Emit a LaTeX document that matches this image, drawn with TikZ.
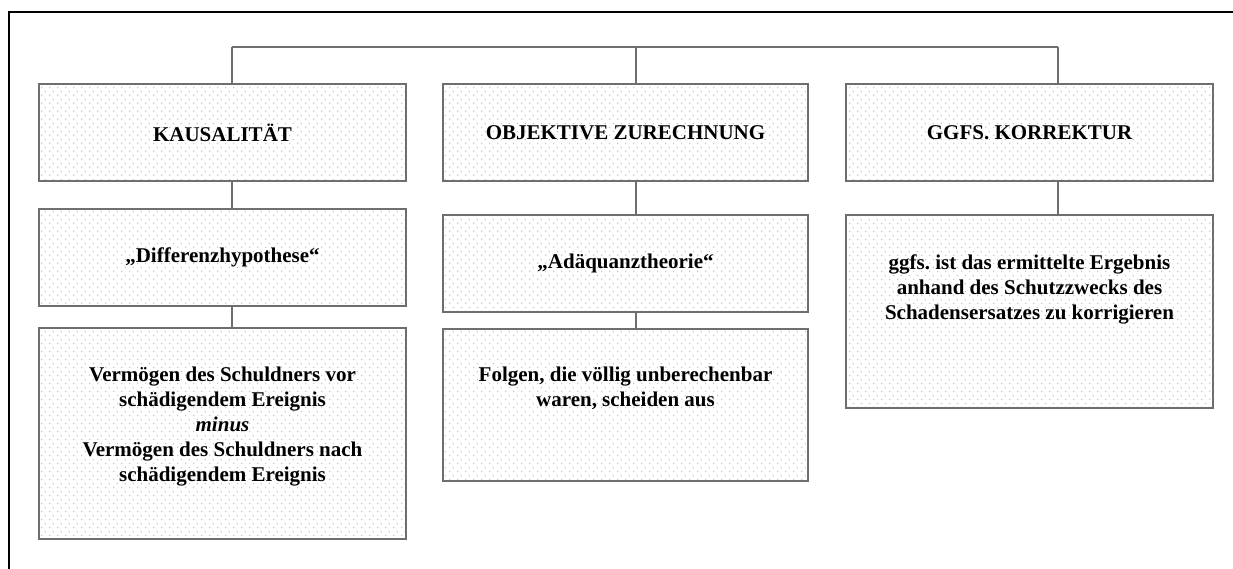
\documentclass[tikz,border=0pt]{standalone}
\usepackage{fontspec}
\setmainfont{Liberation Serif}
\usetikzlibrary{patterns,calc}
\definecolor{boxline}{HTML}{6E6E6E}
\definecolor{dotcol}{HTML}{B8B8B8}
\pgfdeclarepatternformonly{sparsedots}{\pgfqpoint{0pt}{0pt}}{\pgfqpoint{8pt}{8pt}}{\pgfqpoint{8pt}{8pt}}{%
  \pgfpathcircle{\pgfqpoint{2pt}{2pt}}{0.8pt}%
  \pgfpathcircle{\pgfqpoint{6pt}{6pt}}{0.8pt}%
  \pgfusepath{fill}}
\tikzset{
  box/.style={draw=boxline, line width=2pt, rectangle, inner sep=0pt,
    pattern=sparsedots, pattern color=dotcol,
    font=\fontsize{21}{25}\selectfont\bfseries\frenchspacing, align=center},
  boxtext/.style={inner sep=0pt, anchor=north, align=center,
    font=\fontsize{21}{25}\selectfont\bfseries\frenchspacing},
  conn/.style={draw=boxline, line width=2pt},
  frame/.style={draw=black, line width=2pt}
}
\begin{document}
\begin{tikzpicture}[x=1pt,y=1pt]
\useasboundingbox (0,0) rectangle (1233,569);
\draw[frame] (9,0) -- (9,557) -- (1233,557);

% boxes
\node[box, minimum width=367, minimum height=97] (k1) at (222.5,436.5) {KAUSALITÄT};
\node[box, minimum width=367, minimum height=97] (d1) at (222.5,311.5) {„Differenzhypothese“};
\node[box, minimum width=367, minimum height=211] (v1) at (222.5,135.5) {};
\node[boxtext] (v1t) at ($(v1.north)+(0,-40)$) {Vermögen des Schuldners vor\\schädigendem Ereignis\\\textit{minus}\\Vermögen des Schuldners nach\\schädigendem Ereignis};

\node[box, minimum width=365, minimum height=97] (k2) at (625.5,436.5) {OBJEKTIVE ZURECHNUNG};
\node[box, minimum width=365, minimum height=97] (d2) at (625.5,305.5) {„Adäquanztheorie“};
\node[box, minimum width=365, minimum height=152] (v2) at (625.5,164) {};
\node[boxtext] (v2t) at ($(v2.north)+(0,-38.5)$) {Folgen, die völlig unberechenbar\\waren, scheiden aus};

\node[box, minimum width=367, minimum height=97] (k3) at (1029.5,436.5) {GGFS. KORREKTUR};
\node[box, minimum width=367, minimum height=193] (d3) at (1029.5,257.5) {};
\node[boxtext] (d3t) at ($(d3.north)+(0,-40.5)$) {ggfs. ist das ermittelte Ergebnis\\anhand des Schutzzwecks des\\Schadensersatzes zu korrigieren};

% connectors
\coordinate (b1) at (232,522);
\coordinate (b2) at (636,522);
\coordinate (b3) at (1058,522);
\draw[conn] (b1) -- (b3);
\draw[conn] (b1) -- (b1 |- k1.north);
\draw[conn] (b2) -- (b2 |- k2.north);
\draw[conn] (b3) -- (b3 |- k3.north);
\draw[conn] (k1.south -| b1) -- (d1.north -| b1);
\draw[conn] (d1.south -| b1) -- (v1.north -| b1);
\draw[conn] (k2.south -| b2) -- (d2.north -| b2);
\draw[conn] (d2.south -| b2) -- (v2.north -| b2);
\draw[conn] (k3.south -| b3) -- (d3.north -| b3);
\end{tikzpicture}
\end{document}
